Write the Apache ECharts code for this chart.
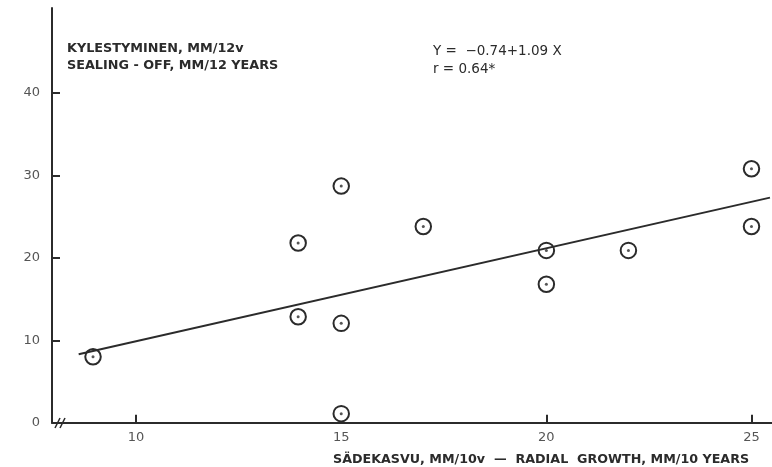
<!DOCTYPE html>
<html><head><meta charset="utf-8">
<script src="https://cdn.jsdelivr.net/npm/echarts@6/dist/echarts.min.js"></script>
<style>html,body{margin:0;padding:0;background:#fff}#c{width:772px;height:467px}</style>
</head><body><div id="c"></div>
<script>
// Observations: [radial growth mm/10 years, sealing-off mm/12 years]
const radialGrowth = [8.95, 13.95, 13.95, 15, 15, 15, 17, 20, 20, 22, 25, 25];
const sealingOff   = [8.0, 21.8, 12.85, 28.7, 12.05, 1.1, 23.8, 20.9, 16.8, 20.9, 30.8, 23.8];
// Regression line endpoints as drawn (Y = -0.74 + 1.09 X)
const lineX = [8.6, 25.45];
const lineY = [8.3, 27.3];
const xTicks = [10, 15, 20, 25];
const yTicks = [0, 10, 20, 30, 40];

const pts = radialGrowth.map((x, i) => [x, sealingOff[i]]);
const linePts = lineX.map((x, i) => [x, lineY[i]]);
const ink = '#2b2b2b';
const font = 'DejaVu Sans';

const chart = echarts.init(document.getElementById('c'), null, {renderer: 'canvas'});
chart.setOption({
  animation: false,
  backgroundColor: '#fff',
  grid: {left: 52, right: 0, top: 8, bottom: 44.3},
  title: [
    {text: 'KYLESTYMINEN, MM/12v\nSEALING - OFF, MM/12 YEARS', left: 62, top: 35,
     textStyle: {fontFamily: font, fontSize: 12.8, fontWeight: 'bold', color: ink, lineHeight: 17}},
    {text: 'Y =  −0.74+1.09 X\nr = 0.64*', left: 428, top: 37,
     textStyle: {fontFamily: font, fontSize: 13.5, fontWeight: 'normal', color: ink, lineHeight: 18.5}},
    {text: 'SÄDEKASVU, MM/10v  —  RADIAL  GROWTH, MM/10 YEARS', left: 328, top: 448,
     textStyle: {fontFamily: font, fontSize: 12.7, fontWeight: 'bold', color: ink}}
  ],
  xAxis: {
    type: 'value', min: 7.95, max: 25.5,
    splitLine: {show: false},
    axisLine: {onZero: false, lineStyle: {color: ink, width: 2}},
    axisTick: {inside: true, length: 8, customValues: xTicks, lineStyle: {color: ink, width: 2}},
    axisLabel: {customValues: xTicks, margin: 8, color: '#555', fontFamily: font, fontSize: 13}
  },
  yAxis: {
    type: 'value', min: 0, max: 50.3,
    splitLine: {show: false},
    axisLine: {onZero: false, lineStyle: {color: ink, width: 2}},
    axisTick: {inside: true, length: 8, customValues: yTicks, lineStyle: {color: ink, width: 2}},
    axisLabel: {customValues: yTicks, margin: 12, color: '#555', fontFamily: font, fontSize: 13}
  },
  graphic: [
    {type: 'line', shape: {x1: 55, y1: 428, x2: 60, y2: 418}, style: {stroke: ink, lineWidth: 1.5}},
    {type: 'line', shape: {x1: 60, y1: 428, x2: 65, y2: 418}, style: {stroke: ink, lineWidth: 1.5}}
  ],
  series: [
    {type: 'scatter', data: pts, symbol: 'emptyCircle', symbolSize: 15.5,
     itemStyle: {color: ink, borderWidth: 2.3, opacity: 1}, z: 2},
    {type: 'scatter', data: pts, symbol: 'circle', symbolSize: 3,
     itemStyle: {color: ink}, z: 3},
    {type: 'line', data: linePts, symbol: 'none', lineStyle: {color: ink, width: 2}, z: 4}
  ]
});
</script></body></html>
